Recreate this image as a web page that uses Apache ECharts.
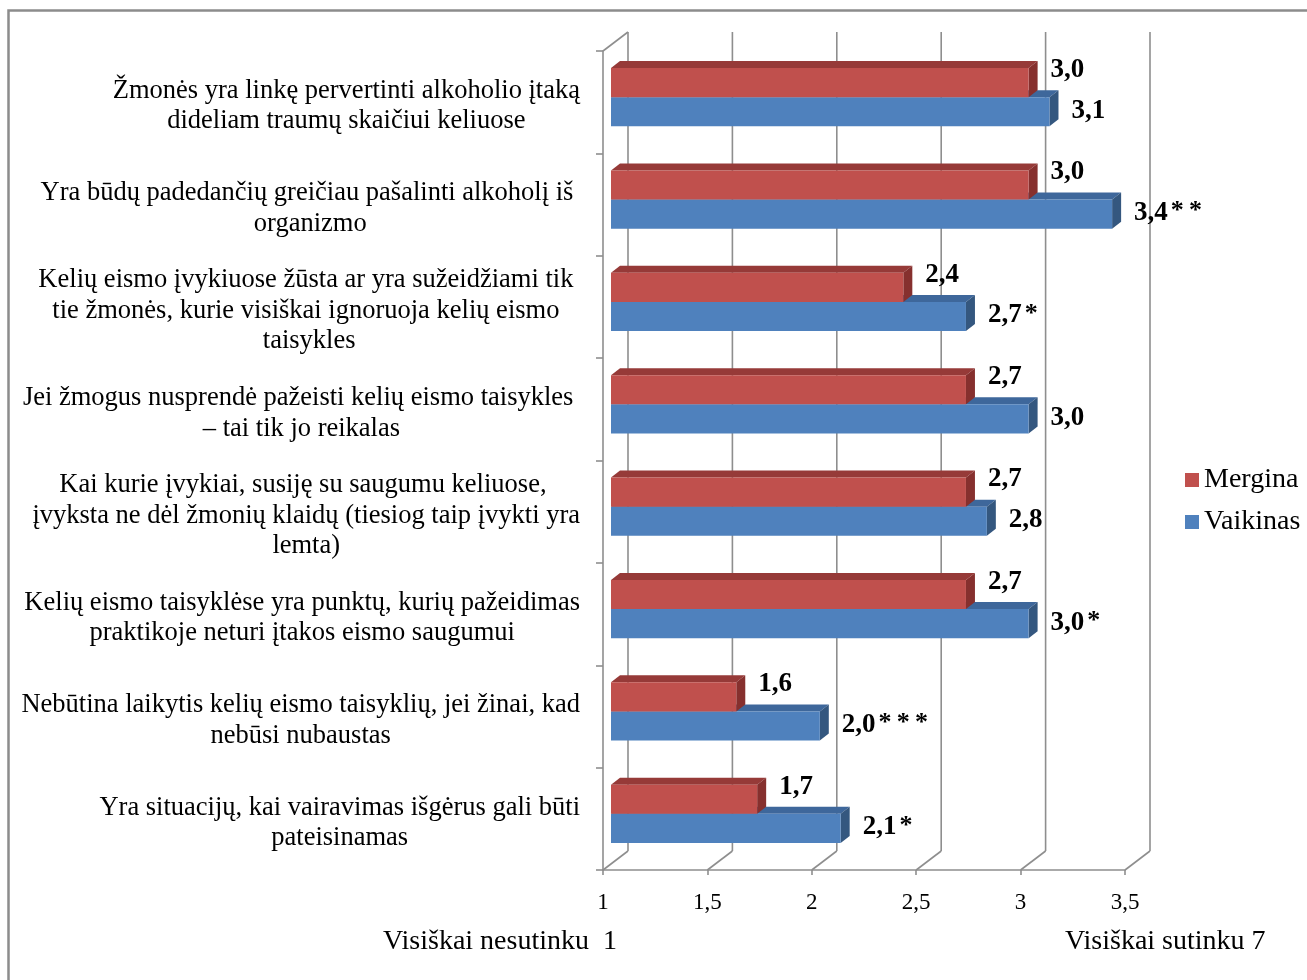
<!DOCTYPE html>
<html>
<head>
<meta charset="utf-8">
<script src="https://cdn.jsdelivr.net/npm/echarts@6/dist/echarts.min.js"></script>
<style>
  html, body { margin: 0; padding: 0; background: #fff; }
  #chart { width: 1307px; height: 980px; }
</style>
</head>
<body>
<div id="chart"></div>
<script>
const categories = [
  'Žmonės yra linkę pervertinti alkoholio įtaką\ndideliam traumų skaičiui keliuose',
  'Yra būdų padedančių greičiau pašalinti alkoholį iš \norganizmo',
  'Kelių eismo įvykiuose žūsta ar yra sužeidžiami tik \ntie žmonės, kurie visiškai ignoruoja kelių eismo \ntaisykles',
  'Jei žmogus nusprendė pažeisti kelių eismo taisykles \n– tai tik jo reikalas',
  'Kai kurie įvykiai, susiję su saugumu keliuose, \nįvyksta ne dėl žmonių klaidų (tiesiog taip įvykti yra\nlemta)',
  'Kelių eismo taisyklėse yra punktų, kurių pažeidimas\npraktikoje neturi įtakos eismo saugumui',
  'Nebūtina laikytis kelių eismo taisyklių, jei žinai, kad\nnebūsi nubaustas',
  'Yra situacijų, kai vairavimas išgėrus gali būti\npateisinamas'
];
const merginaValues = [3.0, 3.0, 2.4, 2.7, 2.7, 2.7, 1.6, 1.7];
const vaikinasValues = [3.1, 3.4, 2.7, 3.0, 2.8, 3.0, 2.0, 2.1];
const merginaMarks = ['', '', '', '', '', '', '', ''];
const vaikinasMarks = ['', '**', '*', '', '', '*', '***', '*'];
const xTicks = [1, 1.5, 2, 2.5, 3, 3.5];

const FONT = '"Liberation Serif", "Times New Roman", serif';
const LINE = '#8e8e8e';
// 3d offsets (px)
const WALL_DX = 25, WALL_DY = -19;
const PLANE_DX = 8, PLANE_DY = -6;
const BAR_DX = 9, BAR_DY = -7;

const fmt = v => v.toFixed(1).replace('.', ',');

const chart = echarts.init(document.getElementById('chart'));

function barRender(pos, colors, values, marks) {
  return function (params, api) {
    const v = api.value(0);
    const i = api.value(1);
    const start = api.coord([1, i]);
    const end = api.coord([v, i]);
    const band = api.size([0, 1])[1];
    const h = band * 0.285;
    const cy = start[1] + PLANE_DY + 1;
    const yt = pos === 'top' ? cy - h : cy;
    const yb = yt + h;
    const x0 = start[0] + PLANE_DX;
    const x1 = end[0] + PLANE_DX;
    const labelY = pos === 'top' ? yt + 2 : yt + h / 2 - 1;
    const mark = marks[params.dataIndex];
    let text = '{v|' + fmt(values[params.dataIndex]) + '}';
    if (mark) text += '{s|' + mark.split('').join('\u2009') + '}';
    return {
      type: 'group',
      children: [
        {
          type: 'polygon',
          shape: { points: [[x0, yt], [x1, yt], [x1 + BAR_DX, yt + BAR_DY], [x0 + BAR_DX, yt + BAR_DY]] },
          style: { fill: colors.top }
        },
        {
          type: 'polygon',
          shape: { points: [[x1, yt], [x1 + BAR_DX, yt + BAR_DY], [x1 + BAR_DX, yb + BAR_DY], [x1, yb]] },
          style: { fill: colors.side }
        },
        {
          type: 'rect',
          shape: { x: x0, y: yt, width: x1 - x0, height: h },
          style: { fill: colors.front }
        },
        {
          type: 'text',
          style: {
            x: x1 + 22,
            y: labelY,
            text: text,
            align: 'left',
            verticalAlign: 'middle',
            rich: {
              v: { fontFamily: FONT, fontSize: 27, fontWeight: 'bold', fill: '#000' },
              s: { fontFamily: FONT, fontSize: 26, fontWeight: 'bold', fill: '#000', padding: [0, 0, 3, 3] }
            }
          }
        }
      ]
    };
  };
}

function frameRender(params, api) {
  const cs = params.coordSys;
  const v = api.value(0);
  const x = api.coord([v, 0])[0];
  const top = cs.y;
  const bottom = cs.y + cs.height;
  const st = { stroke: LINE, lineWidth: 1.6 };
  const children = [
    { type: 'line', shape: { x1: x + WALL_DX, y1: top + WALL_DY, x2: x + WALL_DX, y2: bottom + WALL_DY }, style: st },
    { type: 'line', shape: { x1: x, y1: bottom, x2: x + WALL_DX, y2: bottom + WALL_DY }, style: st }
  ];
  if (params.dataIndex === 0) {
    children.push({ type: 'line', shape: { x1: x, y1: top, x2: x + WALL_DX, y2: top + WALL_DY }, style: st });
  }
  return { type: 'group', children: children };
}

const option = {
  backgroundColor: '#fff',
  animation: false,
  textStyle: { fontFamily: FONT },
  grid: { left: 603, right: 182, top: 51, bottom: 110, containLabel: false },
  legend: {
    data: ['Mergina', 'Vaikinas'],
    orient: 'vertical',
    left: 1185,
    top: 466,
    itemWidth: 14,
    itemHeight: 14,
    itemGap: 14,
    itemTextGap: 7,
    padding: 0,
    icon: 'rect',
    textStyle: { fontFamily: FONT, fontSize: 28, color: '#000' }
  },
  xAxis: {
    type: 'value',
    min: 1,
    max: 3.5,
    interval: 0.5,
    axisLine: { show: true, lineStyle: { color: LINE, width: 1.6 } },
    axisTick: { show: true, length: 5, lineStyle: { color: LINE, width: 1.6 } },
    axisLabel: {
      formatter: v => String(v).replace('.', ','),
      fontFamily: FONT, fontSize: 23, color: '#000', margin: 21
    },
    splitLine: { show: false }
  },
  yAxis: {
    type: 'category',
    inverse: true,
    data: categories,
    axisLine: { show: true, lineStyle: { color: LINE, width: 1.6 } },
    axisTick: { show: true, length: 7, lineStyle: { color: LINE, width: 1.6 } },
    axisLabel: {
      margin: 23,
      color: '#000',
      padding: [8, 0, 0, 0],
      formatter: v => v.split('\n').map(l => '{c|' + l + '}').join('\n'),
      rich: {
        c: { align: 'center', fontFamily: FONT, fontSize: 26.5, lineHeight: 30.5, color: '#000' }
      }
    }
  },
  graphic: [
    {
      type: 'polyline',
      shape: { points: [[8.5, 985], [8.5, 10.5], [1312, 10.5]] },
      style: { stroke: '#8c8c8c', lineWidth: 2.5, fill: null },
      silent: true
    },
    {
      type: 'text', left: 383, top: 928,
      style: { text: 'Visiškai nesutinku  1', fontFamily: FONT, fontSize: 28, fill: '#000' }
    },
    {
      type: 'text', left: 1065, top: 928,
      style: { text: 'Visiškai sutinku 7', fontFamily: FONT, fontSize: 28, fill: '#000' }
    }
  ],
  series: [
    {
      type: 'custom',
      name: 'frame',
      z: 1,
      silent: true,
      renderItem: frameRender,
      encode: { x: 0, y: 1 },
      data: xTicks.map(v => [v, 0])
    },
    {
      type: 'custom',
      name: 'Vaikinas',
      z: 2,
      itemStyle: { color: '#4F81BD' },
      renderItem: barRender('bottom', { front: '#4F81BD', top: '#3E679B', side: '#34577F' }, vaikinasValues, vaikinasMarks),
      encode: { x: 0, y: 1 },
      data: vaikinasValues.map((v, i) => [v, i])
    },
    {
      type: 'custom',
      name: 'Mergina',
      z: 3,
      itemStyle: { color: '#C0504D' },
      renderItem: barRender('top', { front: '#C0504D', top: '#963A38', side: '#86302E' }, merginaValues, merginaMarks),
      encode: { x: 0, y: 1 },
      data: merginaValues.map((v, i) => [v, i])
    }
  ]
};

chart.setOption(option);
</script>
</body>
</html>
